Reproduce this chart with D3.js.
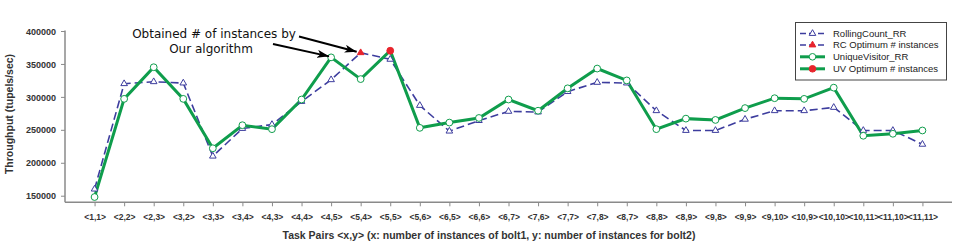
<!DOCTYPE html>
<html><head><meta charset="utf-8">
<script src="https://cdn.jsdelivr.net/npm/d3@7"></script>
<style>
html,body{margin:0;padding:0;background:#fff;}
svg{display:block;}
</style>
</head><body>
<svg id="chart" width="969" height="245"></svg>
<script>
const categories = ["<1,1>","<2,2>","<2,3>","<3,2>","<3,3>","<3,4>","<4,3>","<4,4>","<4,5>","<5,4>","<5,5>","<5,6>","<6,5>","<6,6>","<6,7>","<7,6>","<7,7>","<7,8>","<8,7>","<8,8>","<8,9>","<9,8>","<9,9>","<9,10>","<10,9>","<10,10>","<10,11>","<11,10>","<11,11>"];
const rollingCount = [160000,320000,323000,321000,210000,252000,258000,293000,326000,367000,357000,287000,248000,264000,278000,277000,308000,322000,321000,279000,249000,249000,266000,279000,279000,284000,249000,249000,228000];
const uniqueVisitor = [148000,297000,345000,297000,222000,257000,251000,296000,360000,327000,370000,253000,261000,268000,296000,279000,313000,343000,325000,251000,267000,265000,283000,298000,297000,314000,241000,244000,249000];
const rcOptimum = ["<5,4>"];
const uvOptimum = ["<5,5>"];
const yTicks = [150000,200000,250000,300000,350000,400000];
const seriesNames = ["RollingCount_RR","RC Optimum # instances","UniqueVisitor_RR","UV Optimum # instances"];
const annotationLines = ["Obtained # of instances by","Our algorithm"];
const xTitle = "Task Pairs <x,y> (x: number of instances of bolt1, y: number of instances for bolt2)";
const yTitle = "Throughput (tupels/sec)";

(function(){
const BLUE = "#3d3d9e", GREEN = "#0f9d4c", RED = "#e8242c", AXIS = "#8a8a8a";
const svg = d3.select("#chart");
const pLeft = 65, pRight = 952, pTop = 31, pBottom = 202.3;

const x = d3.scalePoint().domain(categories).range([pLeft, pRight]).padding(1);
const y = d3.scaleLinear().domain([140000, 400000]).range([pBottom, pTop]);

// axes
const yAxis = svg.append("g").attr("transform", `translate(${pLeft},0)`)
  .call(d3.axisLeft(y).tickValues(yTicks).tickSize(4).tickFormat(d3.format("d")));
yAxis.select(".domain").attr("d", `M0,${pTop-0.5}V${pBottom}`);
const xAxis = svg.append("g").attr("transform", `translate(0,${pBottom})`)
  .call(d3.axisBottom(x).tickSize(4).tickPadding(6));
xAxis.select(".domain").attr("d", `M${pLeft},0H${pRight}`);
[yAxis, xAxis].forEach(g => {
  g.selectAll(".domain").attr("stroke", AXIS).attr("stroke-width", 1.5);
  g.selectAll(".tick line").attr("stroke", AXIS).attr("stroke-width", 1);
  g.selectAll("text").attr("fill", "#333").style("font-family", "'Liberation Sans', Arial, sans-serif")
    .style("font-weight", "bold");
});
yAxis.selectAll("text").attr("x", -9).attr("dy", "0.35em").style("font-size", "9px");
xAxis.selectAll("text").attr("y", 12).style("font-size", "8.5px");

// titles
svg.append("text").attr("x", 489).attr("y", 239).attr("text-anchor", "middle")
  .style("font-family", "'Liberation Sans', Arial, sans-serif").style("font-weight", "bold")
  .style("font-size", "10.5px").attr("fill", "#333").text(xTitle);
svg.append("text").attr("transform", "translate(12.5,114) rotate(-90)").attr("text-anchor", "middle")
  .style("font-family", "'Liberation Sans', Arial, sans-serif").style("font-weight", "bold")
  .style("font-size", "10.5px").attr("fill", "#333").text(yTitle);

// lines
const line = d3.line().x((d, i) => x(categories[i])).y(d => y(d));
svg.append("path").datum(rollingCount).attr("d", line).attr("fill", "none")
  .attr("stroke", BLUE).attr("stroke-width", 1.6).attr("stroke-dasharray", "8,4");
svg.append("path").datum(uniqueVisitor).attr("d", line).attr("fill", "none")
  .attr("stroke", GREEN).attr("stroke-width", 3);

const tri = d3.symbol().type(d3.symbolTriangle).size(19);
const rcPts = rollingCount.map((v, i) => ({c: categories[i], v}));
svg.append("g").selectAll("path").data(rcPts).join("path")
  .attr("d", tri).attr("transform", d => `translate(${x(d.c)},${y(d.v)})`)
  .attr("fill", d => rcOptimum.includes(d.c) ? RED : "#fff")
  .attr("stroke", d => rcOptimum.includes(d.c) ? RED : BLUE).attr("stroke-width", 1);
const uvPts = uniqueVisitor.map((v, i) => ({c: categories[i], v}));
svg.append("g").selectAll("circle").data(uvPts).join("circle")
  .attr("cx", d => x(d.c)).attr("cy", d => y(d.v))
  .attr("r", 3.4)
  .attr("fill", d => uvOptimum.includes(d.c) ? RED : "#fff")
  .attr("stroke", d => uvOptimum.includes(d.c) ? RED : GREEN).attr("stroke-width", 1);

// annotation
const ann = svg.append("text").attr("text-anchor", "middle")
  .style("font-family", "'DejaVu Sans', sans-serif").style("font-size", "12px").attr("fill", "#111");
ann.append("tspan").attr("x", 214).attr("y", 38).text(annotationLines[0]);
ann.append("tspan").attr("x", 211).attr("y", 53).text(annotationLines[1]);

svg.append("defs").append("marker").attr("id", "ah").attr("viewBox", "0 0 12 8")
  .attr("refX", 12).attr("refY", 4).attr("markerWidth", 12).attr("markerHeight", 8)
  .attr("markerUnits", "userSpaceOnUse").attr("orient", "auto")
  .append("path").attr("d", "M0,0L12,4L0,8L3,4Z").attr("fill", "#000");
const rcIdx = categories.indexOf(rcOptimum[0]);
const uv45 = categories.indexOf("<4,5>");
svg.append("line").attr("x1", 299).attr("y1", 36.5)
  .attr("x2", x(rcOptimum[0]) - 4).attr("y2", y(rollingCount[rcIdx]) - 1)
  .attr("stroke", "#000").attr("stroke-width", 2).attr("marker-end", "url(#ah)");
svg.append("line").attr("x1", 273).attr("y1", 44)
  .attr("x2", x(categories[uv45]) - 2).attr("y2", y(uniqueVisitor[uv45]) - 1)
  .attr("stroke", "#000").attr("stroke-width", 2).attr("marker-end", "url(#ah)");

// legend
const lg = svg.append("g");
lg.append("rect").attr("x", 795.5).attr("y", 22.5).attr("width", 151).attr("height", 57.5)
  .attr("fill", "#fff").attr("stroke", "#444").attr("stroke-width", 1);
const rowsY = [33.5, 45, 56.8, 68.8];
seriesNames.forEach((name, i) => {
  const yy = rowsY[i];
  const isRC = i < 2;
  lg.append("line").attr("x1", 800).attr("x2", 825).attr("y1", yy).attr("y2", yy)
    .attr("stroke", isRC ? BLUE : GREEN).attr("stroke-width", isRC ? 1.6 : 3)
    .attr("stroke-dasharray", isRC ? "6,3" : null);
  if (isRC) {
    lg.append("path").attr("d", tri).attr("transform", `translate(812.5,${yy})`)
      .attr("fill", i === 1 ? RED : "#fff").attr("stroke", i === 1 ? RED : BLUE);
  } else {
    lg.append("circle").attr("cx", 812.5).attr("cy", yy).attr("r", 3.3)
      .attr("fill", i === 3 ? RED : "#fff").attr("stroke", i === 3 ? RED : GREEN);
  }
  lg.append("text").attr("x", 833).attr("y", yy).attr("dy", "0.35em")
    .style("font-family", "'Liberation Sans', Arial, sans-serif").style("font-size", "9.5px")
    .attr("fill", "#222").text(name);
});
})();
</script>
</body></html>
